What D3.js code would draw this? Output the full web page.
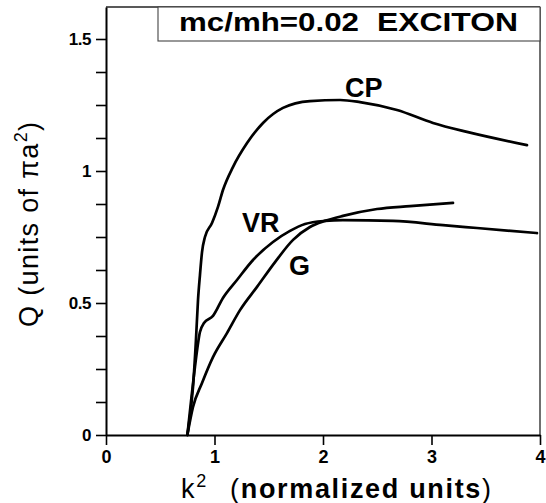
<!DOCTYPE html>
<html>
<head>
<meta charset="utf-8">
<script src="https://cdn.jsdelivr.net/npm/d3@7/dist/d3.min.js"></script>
<style>
  html, body { margin: 0; padding: 0; background: #fff; }
  svg { display: block; }
  text { font-family: "Liberation Sans", Arial, Helvetica, sans-serif; fill: #000; }
</style>
</head>
<body>
<svg id="chart" width="546" height="503"></svg>
<script>
// ---- data ----
const xTicks = [0, 1, 2, 3, 4];
const yTicks = [0, 0.125, 0.25, 0.375, 0.5, 0.625, 0.75, 0.875, 1, 1.125, 1.25, 1.375, 1.5];
const yTickLabels = {0: "0", 0.5: "0.5", 1: "1", 1.5: "1.5"};

const cpX = [0.75, 0.802, 0.829, 0.848, 0.866, 0.885, 0.912, 0.977, 1.032, 1.078, 1.17, 1.30, 1.447, 1.631, 1.88, 2.157, 2.341, 2.682, 3.014, 3.327, 3.88];
const cpY = [0, 0.182, 0.36, 0.511, 0.606, 0.693, 0.75, 0.803, 0.864, 0.928, 1.015, 1.106, 1.182, 1.239, 1.265, 1.269, 1.261, 1.231, 1.182, 1.148, 1.098];

const vrX = [0.75, 0.783, 0.82, 0.866, 0.903, 0.986, 1.078, 1.207, 1.355, 1.539, 1.696, 1.834, 2.018, 2.184, 2.645, 3.106, 3.419, 3.972];
const vrY = [0, 0.125, 0.258, 0.39, 0.424, 0.451, 0.519, 0.587, 0.663, 0.731, 0.773, 0.799, 0.811, 0.814, 0.811, 0.795, 0.784, 0.765];

const gX = [0.75, 0.802, 0.885, 0.986, 1.115, 1.235, 1.392, 1.558, 1.724, 1.88, 2.018, 2.184, 2.498, 2.802, 3.198];
const gY = [0, 0.106, 0.197, 0.295, 0.386, 0.473, 0.561, 0.655, 0.739, 0.788, 0.811, 0.83, 0.856, 0.867, 0.879];

const seriesNames = ["CP", "VR", "G"];
const legendText = ["mc/mh=0.02", "EXCITON"];

// ---- layout ----
const svg = d3.select("#chart");
const pL = 106, pR = 540, pT = 7, pB = 435;
const x = d3.scaleLinear().domain([0, 4]).range([pL, pR]);
const y = d3.scaleLinear().domain([0, (pB - pT) / 264]).range([pB, pT]);

// frame top & right
svg.append("line").attr("x1", pL).attr("x2", pR).attr("y1", pT).attr("y2", pT)
  .attr("stroke", "#222").attr("stroke-width", 1.3);
svg.append("line").attr("x1", pR).attr("x2", pR).attr("y1", pT).attr("y2", pB)
  .attr("stroke", "#222").attr("stroke-width", 1.3);

// axes
const xAxis = d3.axisBottom(x).tickValues(xTicks).tickSize(10).tickSizeOuter(0).tickPadding(5)
  .tickFormat(d3.format("d"));
const gx = svg.append("g").attr("transform", `translate(0,${pB})`).call(xAxis);
gx.select(".domain").attr("stroke", "#000").attr("stroke-width", 2);
gx.selectAll(".tick line").attr("stroke", "#000").attr("stroke-width", 1.6);
gx.selectAll(".tick text").attr("font-size", 18).attr("font-weight", "bold")
  .attr("font-family", "'Liberation Sans', Arial, sans-serif").attr("fill", "#000");

const yAxis = d3.axisLeft(y).tickValues(yTicks).tickSize(10).tickSizeOuter(0).tickPadding(5)
  .tickFormat(d => yTickLabels[d] !== undefined ? yTickLabels[d] : "");
const gy = svg.append("g").attr("transform", `translate(${pL},0)`).call(yAxis);
gy.select(".domain").attr("stroke", "#000").attr("stroke-width", 2);
gy.selectAll(".tick line").attr("stroke", "#000").attr("stroke-width", 1.6);
gy.selectAll(".tick text").attr("font-size", 17).attr("font-weight", "bold")
  .attr("font-family", "'Liberation Sans', Arial, sans-serif").attr("fill", "#000")
  .attr("letter-spacing", -0.5);

// curves
const line = d3.line().x(d => x(d[0])).y(d => y(d[1])).curve(d3.curveMonotoneX);
const series = [
  d3.zip(cpX, cpY),
  d3.zip(vrX, vrY),
  d3.zip(gX, gY)
];
svg.append("g").selectAll("path").data(series).join("path")
  .attr("d", line).attr("fill", "none").attr("stroke", "#000")
  .attr("stroke-width", 2.7).attr("stroke-linejoin", "round").attr("stroke-linecap", "round");

// curve labels
const labelPos = [
  {px: 345, py: 97},
  {px: 242, py: 232},
  {px: 289, py: 275}
];
svg.append("g").selectAll("text").data(seriesNames).join("text")
  .attr("x", (d, i) => labelPos[i].px).attr("y", (d, i) => labelPos[i].py)
  .attr("font-size", 27).attr("font-weight", "bold").text(d => d);

// legend box
svg.append("rect").attr("x", 158).attr("y", pT).attr("width", pR - 158).attr("height", 34)
  .attr("fill", "#fff").attr("stroke", "#444").attr("stroke-width", 1.1);
svg.append("text").attr("x", 179).attr("y", 31).attr("font-size", 26).attr("font-weight", "bold")
  .attr("textLength", 180).attr("lengthAdjust", "spacingAndGlyphs").text(legendText[0]);
svg.append("text").attr("x", 377).attr("y", 31).attr("font-size", 26).attr("font-weight", "bold")
  .attr("textLength", 141).attr("lengthAdjust", "spacingAndGlyphs").text(legendText[1]);

// x-axis label
const xl = svg.append("text").attr("x", 181).attr("y", 498).attr("font-size", 27)
  .attr("textLength", 310).attr("lengthAdjust", "spacing");
xl.append("tspan").text("k");
xl.append("tspan").attr("font-size", 18).attr("dy", -11).text("2");
xl.append("tspan").attr("dy", 11).text("\u2002\u2009(");
xl.append("tspan").attr("font-weight", "bold").text("normalized  units");
xl.append("tspan").text(")");

// y-axis label
const yl = svg.append("text").attr("transform", "translate(38,327) rotate(-90)")
  .attr("x", 0).attr("y", 0).attr("font-size", 27)
  .attr("textLength", 205).attr("lengthAdjust", "spacing");
yl.append("tspan").text("Q (units of \u03C0a");
yl.append("tspan").attr("font-size", 18).attr("dy", -11).text("2");
yl.append("tspan").attr("dy", 11).text(")");
</script>
</body>
</html>
